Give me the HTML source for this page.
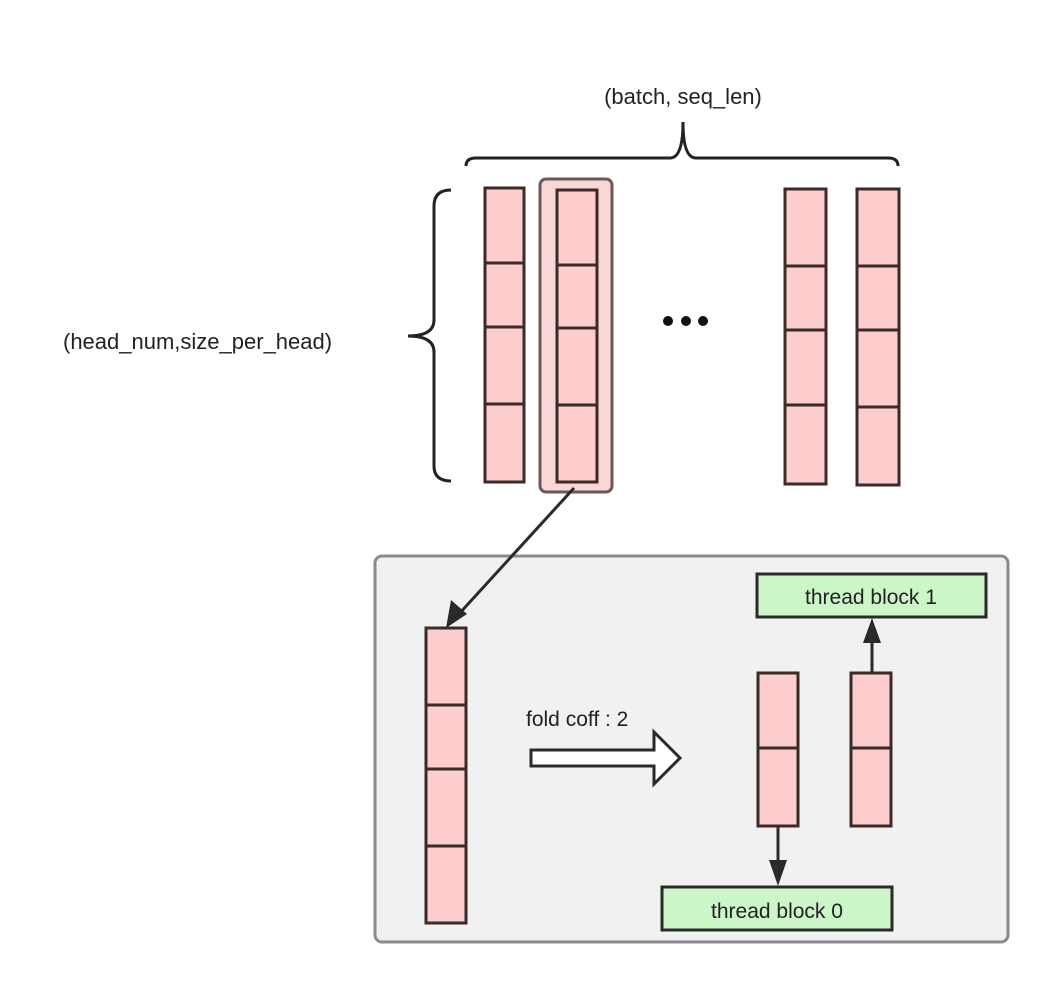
<!DOCTYPE html>
<html><head><meta charset="utf-8"><style>html,body{margin:0;padding:0;background:#fff;}svg{display:block}</style></head>
<body>
<svg width="1057" height="994" viewBox="0 0 1057 994" xmlns="http://www.w3.org/2000/svg" font-family="Liberation Sans, Arial, sans-serif">
<defs>
<marker id="ah" markerWidth="10" markerHeight="10" refX="9" refY="5" orient="auto" markerUnits="userSpaceOnUse" viewBox="0 0 10 10">
</marker>
</defs>
<text x="683" y="104" font-size="22" fill="#222" text-anchor="middle">(batch, seq_len)</text>
<path d="M466,166 Q466,158 476,158 L670,158 Q683,158 683,122 Q683,158 696,158 L888,158 Q898,158 898,166" fill="none" stroke="#222" stroke-width="3"/>
<text x="63" y="349" font-size="22" fill="#222">(head_num,size_per_head)</text>
<path d="M451,190 Q434,190 434,206 L434,320 Q434,336 408,336 Q434,336 434,352 L434,466 Q434,481 451,481" fill="none" stroke="#222" stroke-width="3"/>
<rect x="540" y="179" width="72" height="313" rx="6" fill="#f9d7d7" stroke="#6b5858" stroke-width="3"/>
<g fill="#fdcccc" stroke="#3a2a2a" stroke-width="3">
<rect x="485" y="188" width="39" height="294"/>
<line x1="485" y1="263" x2="524" y2="263"/><line x1="485" y1="327" x2="524" y2="327"/><line x1="485" y1="404" x2="524" y2="404"/>
<rect x="557" y="190" width="40" height="292"/>
<line x1="557" y1="265" x2="597" y2="265"/><line x1="557" y1="328" x2="597" y2="328"/><line x1="557" y1="405" x2="597" y2="405"/>
<rect x="785" y="189" width="41" height="295"/>
<line x1="785" y1="266" x2="826" y2="266"/><line x1="785" y1="330" x2="826" y2="330"/><line x1="785" y1="405" x2="826" y2="405"/>
<rect x="857" y="189" width="42" height="296"/>
<line x1="857" y1="266" x2="899" y2="266"/><line x1="857" y1="330" x2="899" y2="330"/><line x1="857" y1="407" x2="899" y2="407"/>
</g>
<circle cx="668" cy="321" r="5" fill="#111"/><circle cx="686" cy="321" r="5" fill="#111"/><circle cx="703" cy="321" r="5" fill="#111"/>
<rect x="375" y="556" width="633" height="386" rx="7" fill="#f1f1f1" stroke="#8a8a8a" stroke-width="3"/>
<line x1="574" y1="488" x2="458" y2="615" stroke="#2a2a2a" stroke-width="3"/>
<polygon points="446,628 451,600 467,614" fill="#2a2a2a"/>
<g fill="#fdcccc" stroke="#3a2a2a" stroke-width="3">
<rect x="426" y="628" width="40" height="295"/>
<line x1="426" y1="705" x2="466" y2="705"/><line x1="426" y1="769" x2="466" y2="769"/><line x1="426" y1="846" x2="466" y2="846"/>
<rect x="758" y="673" width="40" height="153"/>
<line x1="758" y1="748" x2="798" y2="748"/>
<rect x="851" y="673" width="40" height="153"/>
<line x1="851" y1="748" x2="891" y2="748"/>
</g>
<text x="526" y="726" font-size="21" fill="#222">fold coff : 2</text>
<polygon points="531,750 654,750 654,732 680,758 654,784 654,766 531,766" fill="#fff" stroke="#2a2a2a" stroke-width="3"/>
<rect x="757" y="574" width="229" height="43" fill="#ccf5c8" stroke="#2a2a2a" stroke-width="3"/>
<text x="871" y="604" font-size="21" fill="#222" text-anchor="middle">thread block 1</text>
<line x1="872" y1="672" x2="872" y2="640" stroke="#2a2a2a" stroke-width="3"/>
<polygon points="872,618 863,643 881,643" fill="#2a2a2a"/>
<rect x="662" y="887" width="230" height="43" fill="#ccf5c8" stroke="#2a2a2a" stroke-width="3"/>
<text x="777" y="918" font-size="21" fill="#222" text-anchor="middle">thread block 0</text>
<line x1="778" y1="827" x2="778" y2="862" stroke="#2a2a2a" stroke-width="3"/>
<polygon points="778,886 769,860 787,860" fill="#2a2a2a"/>
</svg>
</body></html>
